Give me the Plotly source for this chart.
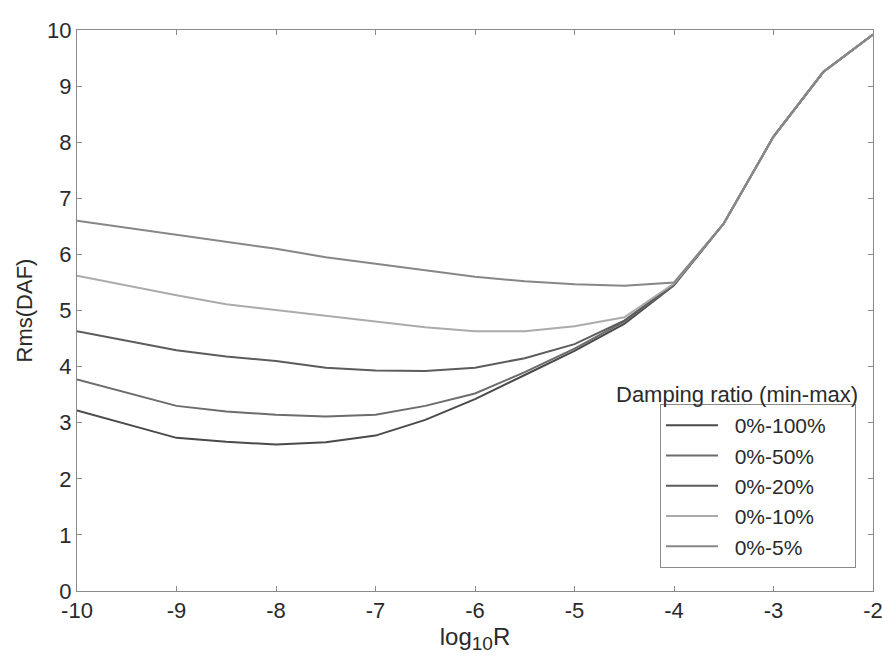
import plotly.graph_objects as go

log_r = [-10, -9, -8.5, -8, -7.5, -7, -6.5, -6, -5.5, -5, -4.5, -4, -3.5, -3, -2.5, -2]

series_names = ["0%-100%", "0%-50%", "0%-20%", "0%-10%", "0%-5%"]
rms_100 = [3.22, 2.73, 2.66, 2.61, 2.65, 2.77, 3.05, 3.42, 3.85, 4.28, 4.76, 5.45, 6.55, 8.10, 9.25, 9.92]
rms_50 = [3.77, 3.30, 3.20, 3.14, 3.11, 3.14, 3.30, 3.52, 3.90, 4.32, 4.80, 5.46, 6.55, 8.10, 9.25, 9.92]
rms_20 = [4.63, 4.29, 4.18, 4.10, 3.98, 3.93, 3.92, 3.98, 4.15, 4.40, 4.82, 5.47, 6.55, 8.10, 9.25, 9.92]
rms_10 = [5.62, 5.27, 5.11, 5.01, 4.90, 4.80, 4.70, 4.63, 4.63, 4.72, 4.88, 5.48, 6.55, 8.10, 9.25, 9.92]
rms_5 = [6.60, 6.35, 6.22, 6.10, 5.95, 5.83, 5.72, 5.60, 5.52, 5.47, 5.44, 5.50, 6.55, 8.10, 9.25, 9.92]
series_values = [rms_100, rms_50, rms_20, rms_10, rms_5]
series_colors = ["#4a4a4a", "#6c6c6c", "#5c5c5c", "#ababab", "#878787"]

x_ticks = [-10, -9, -8, -7, -6, -5, -4, -3, -2]
y_ticks = [0, 1, 2, 3, 4, 5, 6, 7, 8, 9, 10]

FONT = "Liberation Sans, Arial, Helvetica, sans-serif"
LPAD = "\u00a0\u00a0"
RPAD = "\u00a0\u00a0\u00a0\u00a0"

fig = go.Figure()
for name, vals, col in zip(series_names, series_values, series_colors):
    fig.add_trace(go.Scatter(x=log_r, y=vals, mode="lines", name=LPAD + name + RPAD,
                             line=dict(color=col, width=2)))

axis_common = dict(showline=True, linecolor="#8a8a8a", linewidth=1, mirror="ticks",
                   ticks="inside", ticklen=5, tickcolor="#8a8a8a", showgrid=False,
                   zeroline=False, tickfont=dict(family=FONT, size=22, color="#2a2a2a"))

fig.update_xaxes(range=[-10, -2], tickvals=x_ticks, ticktext=[str(v) for v in x_ticks],
                 ticklabeloverflow="allow",
                 title=dict(text="log<sub><span style='font-size:19px'>10</span></sub>R",
                            font=dict(family=FONT, size=24, color="#2a2a2a"),
                            standoff=2),
                 **axis_common)
fig.update_yaxes(range=[0, 10], tickvals=y_ticks, ticktext=[str(v) for v in y_ticks],
                 title=dict(text="Rms(DAF)", font=dict(family=FONT, size=22, color="#2a2a2a"),
                            standoff=8),
                 **axis_common)

fig.add_annotation(text="Damping ratio (min-max)", xref="paper", yref="paper",
                   x=0.9837, y=0.351, xanchor="right", yanchor="middle", showarrow=False,
                   font=dict(family=FONT, size=22, color="#2a2a2a"))

fig.update_layout(
    width=882, height=660,
    margin=dict(l=77, r=9, t=30, b=69, autoexpand=False),
    paper_bgcolor="white", plot_bgcolor="white",
    font=dict(family=FONT, color="#2a2a2a"),
    legend=dict(x=0.9786, y=0.041, xanchor="right", yanchor="bottom",
                bgcolor="white", bordercolor="#8a8a8a", borderwidth=1,
                font=dict(family=FONT, size=21, color="#2a2a2a"),
                itemwidth=52, tracegroupgap=0),
)

fig.write_html("out.html")
